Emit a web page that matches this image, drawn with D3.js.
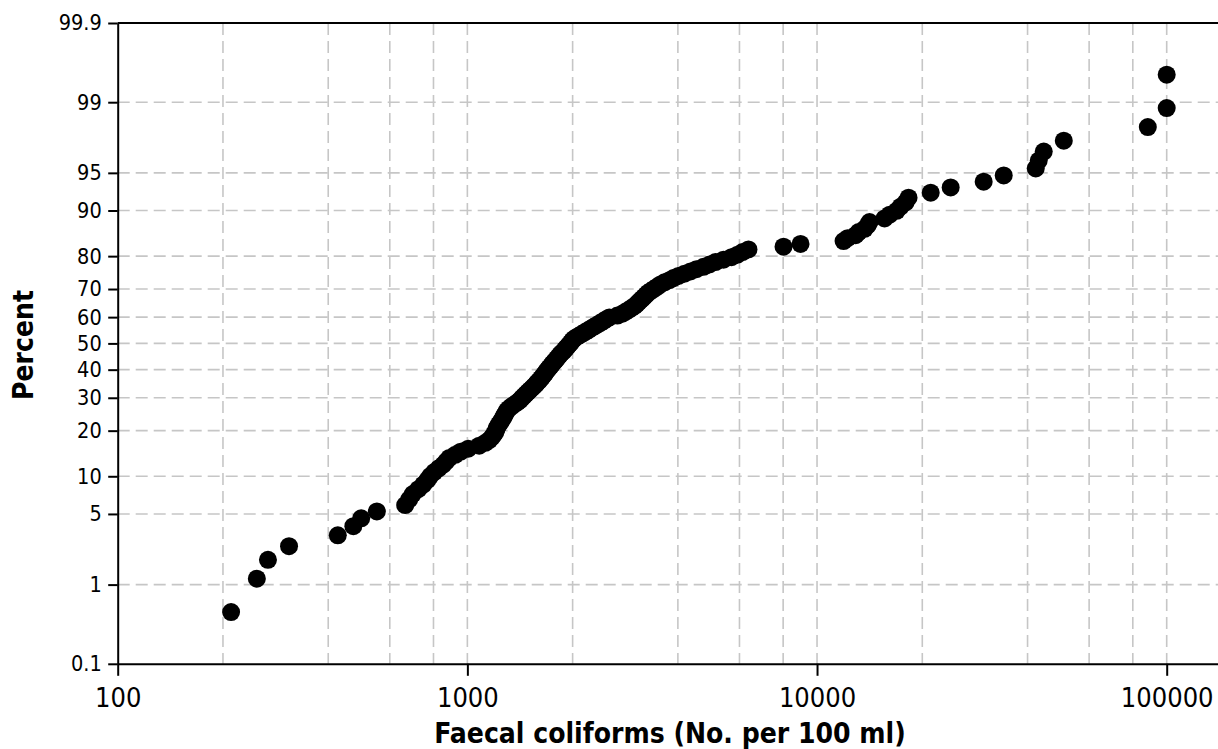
<!DOCTYPE html>
<html><head><meta charset="utf-8">
<script src="https://cdn.jsdelivr.net/npm/d3@7"></script>
<style>body{margin:0;background:#fff}svg{display:block}</style>
</head><body><svg id="c" width="1218" height="749"></svg>
<script>
// Faecal coliform counts (No. per 100 ml), sorted ascending
const coliforms = [
  211, 250, 269, 309, 426, 472, 497, 551,
  664, 682, 698, 724, 748, 768, 783, 804, 828, 853, 870, 888,
  923, 957, 1006, 1081, 1125, 1155, 1174, 1190, 1202, 1210,
  1218, 1230, 1242, 1255, 1267, 1275, 1288, 1296, 1314, 1336,
  1362, 1389, 1413, 1431, 1450, 1469, 1489, 1509, 1529, 1549,
  1570, 1585, 1606, 1622, 1638, 1654, 1671, 1682, 1699, 1716,
  1733, 1750, 1767, 1785, 1803, 1821, 1839, 1857, 1882, 1900,
  1919, 1938, 1957, 1977, 1996, 2016, 2050, 2091, 2133, 2175,
  2218, 2262, 2308, 2354, 2401, 2448, 2497, 2547, 2685, 2775,
  2831, 2888, 2945, 3004, 3044, 3084, 3124, 3166, 3208, 3251,
  3294, 3360, 3427, 3496, 3566, 3661, 3784, 3885, 4015, 4177,
  4345, 4520, 4733, 4924, 5122, 5400, 5692, 5922, 6120, 6367,
  8020, 8971, 11910, 12230, 12890, 13150, 13680, 13950, 14130, 15600,
  16130, 16890, 17340, 17920, 18270, 21140, 24110, 29960, 34190, 42220,
  43060, 44500, 50780, 88300, 100000, 100000
];
const yTickValues = [0.1, 1, 5, 10, 20, 30, 40, 50, 60, 70, 80, 90, 95, 99, 99.9];
const yGridValues = [1, 5, 10, 20, 30, 40, 50, 60, 70, 80, 90, 95, 99];
const xTickValues = [100, 1000, 10000, 100000];
const xGridValues = [200, 400, 600, 800, 1000, 2000, 4000, 6000, 8000, 10000,
                     20000, 40000, 60000, 80000, 100000];
const xTitle = "Faecal coliforms (No. per 100 ml)";
const yTitle = "Percent";

// inverse standard normal CDF (Acklam)
function probit(p) {
  const a = [-3.969683028665376e+01, 2.209460984245205e+02, -2.759285104469687e+02,
             1.383577518672690e+02, -3.066479806614716e+01, 2.506628277459239e+00];
  const b = [-5.447609879822406e+01, 1.615858368580409e+02, -1.556989798598866e+02,
             6.680131188771972e+01, -1.328068155288572e+01];
  const c = [-7.784894002430293e-03, -3.223964580411365e-01, -2.400758277161838e+00,
             -2.549671010228583e+00, 4.374664141464968e+00, 2.938163982698783e+00];
  const d = [7.784695709041462e-03, 3.224671290700398e-01, 2.445134137142996e+00,
             3.754408661907416e+00];
  const pl = 0.02425, ph = 1 - pl;
  let q, r;
  if (p < pl) {
    q = Math.sqrt(-2 * Math.log(p));
    return (((((c[0]*q+c[1])*q+c[2])*q+c[3])*q+c[4])*q+c[5]) /
           ((((d[0]*q+d[1])*q+d[2])*q+d[3])*q+1);
  } else if (p <= ph) {
    q = p - 0.5; r = q * q;
    return (((((a[0]*r+a[1])*r+a[2])*r+a[3])*r+a[4])*r+a[5])*q /
           (((((b[0]*r+b[1])*r+b[2])*r+b[3])*r+b[4])*r+1);
  } else {
    q = Math.sqrt(-2 * Math.log(1 - p));
    return -(((((c[0]*q+c[1])*q+c[2])*q+c[3])*q+c[4])*q+c[5]) /
            ((((d[0]*q+d[1])*q+d[2])*q+d[3])*q+1);
  }
}

const n = coliforms.length;
// median-rank plotting positions (Benard)
const points = coliforms.map((v, i) => ({ v, p: (i + 1 - 0.3) / (n + 0.4) * 100 }));

const W = 1218, H = 749;
const L = 117.7, T = 23, B = 663.8, R = 1218;
const FONT = "'DejaVu Sans Condensed', 'DejaVu Sans', sans-serif";

const x0 = d3.scaleLog().domain([100, 100000]).range([L, 1166.7]);
const x = d3.scaleLog().domain([100, x0.invert(R)]).range([L, R]);
const z = d3.scaleLinear().domain([probit(0.001), probit(0.999)]).range([B, T]);
const y = pct => z(probit(pct / 100));

const svg = d3.select("#c");

// grid
const grid = svg.append("g").attr("stroke", "#c6c6c6").attr("stroke-width", 1.6)
  .attr("stroke-dasharray", "12,6");
grid.selectAll("line.v").data(xGridValues).join("line").attr("class", "v")
  .attr("x1", d => x(d)).attr("x2", d => x(d)).attr("y1", T).attr("y2", B);
grid.selectAll("line.h").data(yGridValues).join("line").attr("class", "h")
  .attr("x1", L).attr("x2", R).attr("y1", d => y(d)).attr("y2", d => y(d));

// frame top line
svg.append("line").attr("x1", L).attr("x2", R).attr("y1", T).attr("y2", T)
  .attr("stroke", "#000").attr("stroke-width", 2);

// axes
const yAxis = d3.axisLeft(z)
  .tickValues(yTickValues.map(p => probit(p / 100)))
  .tickFormat((d, i) => String(yTickValues[i]))
  .tickSizeInner(9.5).tickSizeOuter(0).tickPadding(6.5);
const gy = svg.append("g").attr("transform", `translate(${L},0)`).call(yAxis);
gy.selectAll("text").attr("font-family", FONT).attr("font-stretch", "condensed")
  .attr("font-size", 21.5).attr("fill", "#000");

const xAxis = d3.axisBottom(x).tickValues(xTickValues).tickFormat(d3.format("d"))
  .tickSizeInner(12).tickSizeOuter(0).tickPadding(12);
const gx = svg.append("g").attr("transform", `translate(0,${B})`).call(xAxis);
gx.selectAll("text").attr("font-family", FONT).attr("font-stretch", "condensed")
  .attr("font-size", 27).attr("fill", "#000");

svg.selectAll(".domain, .tick line").attr("stroke", "#000").attr("stroke-width", 2);

// points
svg.append("g").selectAll("circle").data(points).join("circle")
  .attr("cx", d => x(d.v)).attr("cy", d => y(d.p)).attr("r", 9).attr("fill", "#000");

// titles
svg.append("text").attr("x", 670).attr("y", 742.5).attr("text-anchor", "middle")
  .attr("font-family", FONT).attr("font-stretch", "condensed").attr("font-weight", "bold")
  .attr("font-size", 28).text(xTitle);
svg.append("text").attr("transform", `translate(33,345) rotate(-90)`).attr("text-anchor", "middle")
  .attr("font-family", FONT).attr("font-stretch", "condensed").attr("font-weight", "bold")
  .attr("font-size", 28).text(yTitle);
</script></body></html>
